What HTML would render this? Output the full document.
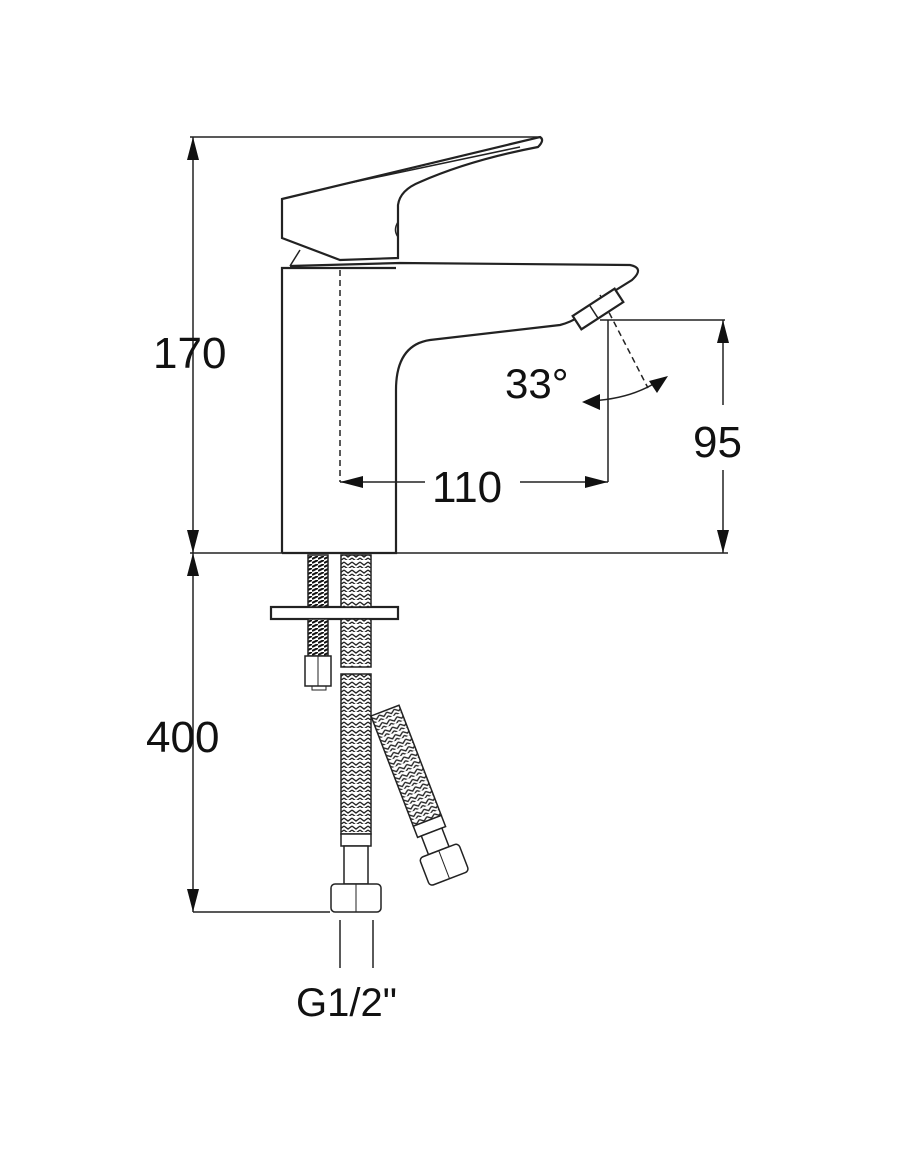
<!DOCTYPE html>
<html><head><meta charset="utf-8"><style>html,body{margin:0;padding:0;background:#fff}svg{display:block}</style></head><body>
<svg width="900" height="1163" viewBox="0 0 900 1163" xmlns="http://www.w3.org/2000/svg">
<defs>
<pattern id="br" width="8" height="8" patternUnits="userSpaceOnUse">
<rect width="8" height="8" fill="#fff"/>
<path d="M0 2 L4 5 L8 2 M0 6 L4 9 L8 6" stroke="#222" stroke-width="1.3" fill="none"/>
</pattern>
<pattern id="th" width="6" height="4" patternUnits="userSpaceOnUse">
<rect width="6" height="4" fill="#fff"/>
<path d="M0 3 L6 0" stroke="#111" stroke-width="2"/>
</pattern>
</defs>
<g stroke="#222" fill="none" stroke-width="2.2">
<line x1="190" y1="137" x2="540" y2="137" stroke-width="1.5"/>
<line x1="193" y1="137" x2="193" y2="912" stroke-width="1.5"/>
<line x1="190" y1="553" x2="728" y2="553" stroke-width="1.5"/>
<line x1="193" y1="912" x2="330" y2="912" stroke-width="1.5"/>
<line x1="600" y1="320" x2="725" y2="320" stroke-width="1.5"/>
<line x1="723" y1="320" x2="723" y2="405" stroke-width="1.5"/>
<line x1="723" y1="470" x2="723" y2="553" stroke-width="1.5"/>
<line x1="608" y1="320" x2="608" y2="482" stroke-width="1.5"/>
<line x1="340" y1="482" x2="425" y2="482" stroke-width="1.5"/>
<line x1="520" y1="482" x2="608" y2="482" stroke-width="1.5"/>
<line x1="340" y1="270" x2="340" y2="482" stroke-width="1.5" stroke-dasharray="6,4"/>
<line x1="340" y1="920" x2="340" y2="968" stroke-width="1.5"/>
<line x1="373" y1="920" x2="373" y2="968" stroke-width="1.5"/>
<line x1="600" y1="295" x2="648" y2="388" stroke-width="1.5" stroke-dasharray="6,4"/>
<path d="M586 401 Q630 400 660 380" stroke-width="1.5"/>
<path d="M282 553 L282 268 L396 268 M282 553 L396 553 L396 390 Q396 345 430 340 L560 325 Q580 320 600 300 L632 280 Q645 268 630 265 L400 263 L290 266"/>
<path d="M290 268 L396 268" stroke-width="1.5"/>
<path d="M282 199 L540 137 Q545 140 538 147 Q470 160 420 182 Q400 190 398 205 L398 258 L340 260 L282 238 Z"/>
<path d="M340 185 L520 147" stroke-width="1.5"/>
<path d="M300 250 L290 266" stroke-width="1.5"/>
<path d="M398 222 Q393 230 398 237" stroke-width="1.5"/>
<g transform="translate(598,309) rotate(-33)"><rect x="-25" y="-8" width="50" height="16" fill="#fff"/><line x1="-5" y1="-8" x2="-5" y2="8" stroke-width="1.5"/></g>
<rect x="271" y="607" width="127" height="12" fill="#fff"/>
<rect x="308" y="555" width="20" height="52" fill="url(#th)" stroke-width="1.5"/>
<rect x="308" y="619" width="20" height="37" fill="url(#th)" stroke-width="1.5"/>
<rect x="305" y="656" width="26" height="30" fill="#fff" stroke-width="1.5"/>
<line x1="318" y1="656" x2="318" y2="686" stroke-width="1"/>
<rect x="312" y="686" width="14" height="4" stroke-width="1"/>
<rect x="341" y="555" width="30" height="52" fill="url(#br)" stroke-width="1.5"/>
<rect x="341" y="619" width="30" height="48" fill="url(#br)" stroke-width="1.5"/>
<rect x="341" y="674" width="30" height="160" fill="url(#br)" stroke-width="1.5"/>
<g transform="translate(371,716) rotate(-21)"><rect x="0" y="0" width="30" height="118" fill="url(#br)" stroke-width="1.5"/>
<rect x="0" y="118" width="30" height="12" fill="#fff" stroke-width="1.5"/>
<rect x="4" y="130" width="22" height="20" fill="#fff" stroke-width="1.5"/>
<rect x="-6" y="150" width="42" height="30" rx="4" fill="#fff" stroke-width="1.5"/>
<line x1="15" y1="150" x2="15" y2="180" stroke-width="1"/></g>
<rect x="341" y="834" width="30" height="12" fill="#fff" stroke-width="1.5"/>
<rect x="344" y="846" width="24" height="38" fill="#fff" stroke-width="1.5"/>
<rect x="331" y="884" width="50" height="28" rx="4" fill="#fff" stroke-width="1.5"/>
<line x1="356" y1="884" x2="356" y2="912" stroke-width="1"/>
<g fill="#111" stroke="none">
<polygon points="193,137 187,160 199,160"/>
<polygon points="193,553 187,530 199,530"/>
<polygon points="193,553 187,576 199,576"/>
<polygon points="193,912 187,889 199,889"/>
<polygon points="340,482 363,476 363,488"/>
<polygon points="608,482 585,476 585,488"/>
<polygon points="723,320 717,343 729,343"/>
<polygon points="723,553 717,530 729,530"/>
<polygon points="582,402 600,394 600,410"/>
<polygon points="668,376 649,381 657,393"/>
</g>
</g>
<g font-family="Liberation Sans, sans-serif" font-size="44" fill="#111">
<text x="153" y="368">170</text>
<text x="146" y="752">400</text>
<text x="432" y="502">110</text>
<text x="505" y="398" font-size="42">33°</text>
<text x="693" y="457">95</text>
<text x="296" y="1016" font-size="40">G1/2"</text>
</g>
</svg>
</body></html>
